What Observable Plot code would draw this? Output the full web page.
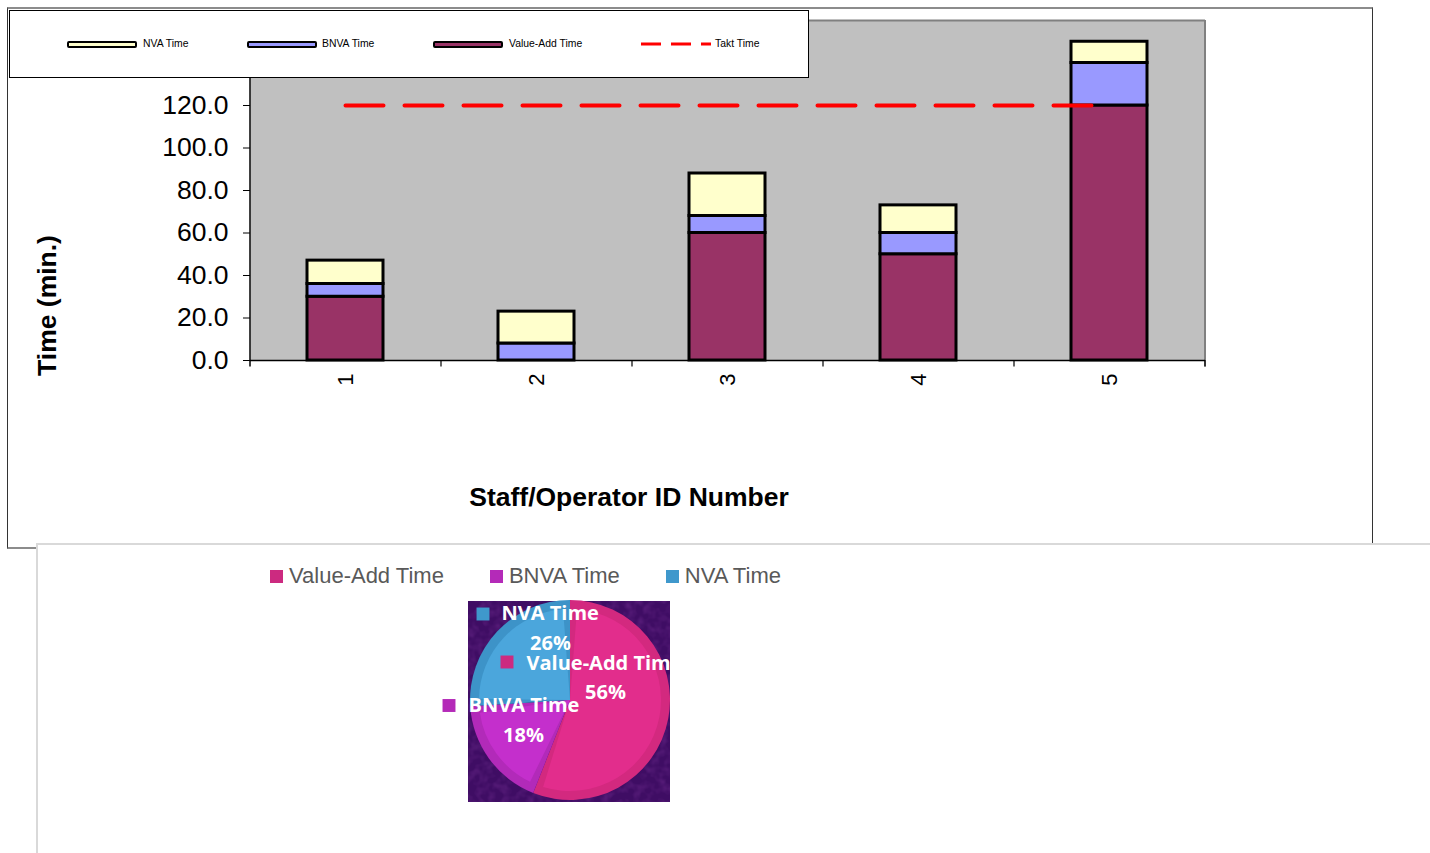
<!DOCTYPE html>
<html>
<head>
<meta charset="utf-8">
<script src="https://cdn.jsdelivr.net/npm/d3@7"></script>
<script src="https://cdn.jsdelivr.net/npm/@observablehq/plot@0.6"></script>
<style>
  body { margin: 0; background: #fff; }
  #page { position: relative; width: 1430px; height: 853px; overflow: hidden; font-family: "Liberation Sans", Arial, sans-serif; }
  #frame { position: absolute; left: 7px; top: 7px; width: 1366px; height: 542px; box-sizing: border-box;
           border-top: 2px solid #8c8c8c; border-bottom: 2px solid #8c8c8c; border-left: 1px solid #333; border-right: 1px solid #333; background: #fff; }
  #bars { position: absolute; left: 0; top: 0; }
  #legend { position: absolute; left: 9px; top: 10px; width: 800px; height: 68px; box-sizing: border-box; border: 1px solid #000; background: #fff; }
  #legend .sw { position: absolute; top: 30px; width: 70px; height: 7px; box-sizing: border-box; border: 2px solid #000; border-radius: 2px; }
  #legend .tx { position: absolute; top: 26px; font-size: 10.4px; line-height: 14px; color: #000; white-space: nowrap; }
  #panel { position: absolute; left: 36px; top: 543px; width: 1430px; height: 360px; box-sizing: border-box; border: 2px solid #d9d9d9; background: #fff; }
  #pieLegend { position: absolute; left: 270px; top: 563px; display: flex; gap: 46px; font-family: "Liberation Sans", Arial, sans-serif; font-size: 22px; color: #595959; }
  #pieLegend .it { display: flex; align-items: center; white-space: nowrap; }
  #pieLegend .sq { width: 13px; height: 13px; margin-right: 6px; }
  #pieBg { position: absolute; left: 468px; top: 601px; width: 202px; height: 201px; background: #3f0d64; }
  #pieWrap { position: absolute; left: 430px; top: 595px; width: 240px; height: 212px; overflow: hidden; }
</style>
</head>
<body>
<div id="page">
  <div id="frame"></div>
  <div id="bars"></div>
  <div id="legend"></div>
  <div id="panel"></div>
  <div id="pieLegend"></div>
  <div id="pieBg"></div>
  <div id="pieWrap"></div>
</div>
<script>
// Time per staff member / operator (minutes)
const operators    = ["1", "2", "3", "4", "5"];
const valueAddTime = [30, 0, 60, 50, 120];
const bnvaTime     = [6, 8, 8, 10, 20];
const nvaTime      = [11, 15, 20, 13, 10];
const taktTime     = 120;
const yTicks       = [0, 20, 40, 60, 80, 100, 120, 140, 160];

// Overall time split
const pieLabels = ["Value-Add Time", "BNVA Time", "NVA Time"];
const pieShares = [56, 18, 26];

// ---- stacked bar chart ----
const seriesNames  = ["Value-Add Time", "BNVA Time", "NVA Time"];
const seriesFills  = ["#993366", "#9999ff", "#ffffcc"];
const seriesValues = [valueAddTime, bnvaTime, nvaTime];

const rows = [];
operators.forEach((op, i) => {
  seriesNames.forEach((name, s) => rows.push({operator: op, type: name, value: seriesValues[s][i]}));
});
const taktRows = operators.map(op => ({operator: op, takt: taktTime}));

const W = 1430, H = 540, mL = 250, mR = 225, mT = 20, mB = 180;
const step = (W - mL - mR) / operators.length;

const bars = Plot.plot({
  width: W, height: H,
  marginLeft: mL, marginRight: mR, marginTop: mT, marginBottom: mB,
  style: {fontFamily: '"Liberation Sans", Arial, sans-serif', background: "transparent", color: "#000", overflow: "visible"},
  x: {domain: operators, paddingInner: 0.6, paddingOuter: 0.3, label: null},
  y: {domain: [0, 160], label: null},
  color: {domain: seriesNames, range: seriesFills},
  marks: [
    Plot.frame({fill: "#c0c0c0", stroke: null}),
    Plot.ruleY([160], {stroke: "#808080", strokeWidth: 2}),
    Plot.ruleX([operators[operators.length - 1]], {dx: step / 2, y1: -3, y2: 160, stroke: "#808080", strokeWidth: 2}),
    Plot.ruleY([0], {stroke: "#000", strokeWidth: 1.5}),
    Plot.ruleX(operators, {dx: step / 2, y1: 0, y2: -3, stroke: "#000", strokeWidth: 1.2}),
    Plot.ruleX([operators[0]], {dx: -step / 2, y1: -3, y2: 160, stroke: "#000", strokeWidth: 1.5}),
    Plot.axisY({ticks: yTicks, tickSize: 7, tickPadding: 15, tickFormat: d3.format(".1f"), fontSize: 26.5, label: null}),
    Plot.axisX({tickSize: 0, tickPadding: 13, tickRotate: -90, fontSize: 22, label: null}),
    Plot.barY(rows, {x: "operator", y: "value", fill: "type", stroke: "#000", strokeWidth: 3, order: seriesNames}),
    Plot.lineY(taktRows, {x: "operator", y: "takt", stroke: "#ff0000", strokeWidth: 4, strokeDasharray: "38,21", strokeLinecap: "round"}),
    Plot.text(["Staff/Operator ID Number"], {frameAnchor: "bottom", dx: -99, dy: 145, fontSize: 26.5, fontWeight: "bold"}),
    Plot.text(["Time (min.)"], {frameAnchor: "left", textAnchor: "middle", rotate: -90, dx: -203, dy: 115, fontSize: 26.5, fontWeight: "bold"})
  ]
});
document.getElementById("bars").append(bars);

// legend of the bar chart
const legend = document.getElementById("legend");
const legendEntries = [
  {name: "NVA Time", fill: "#ffffcc", left: 57, text: 133},
  {name: "BNVA Time", fill: "#9999ff", left: 237, text: 312},
  {name: "Value-Add Time", fill: "#993366", left: 423, text: 499}
];
legendEntries.forEach(e => {
  const sw = document.createElement("div");
  sw.className = "sw"; sw.style.left = e.left + "px"; sw.style.background = e.fill;
  legend.append(sw);
  const tx = document.createElement("div");
  tx.className = "tx"; tx.style.left = e.text + "px"; tx.textContent = e.name;
  legend.append(tx);
});
{
  const ns = "http://www.w3.org/2000/svg";
  const s = document.createElementNS(ns, "svg");
  s.setAttribute("width", 72); s.setAttribute("height", 8);
  s.style.position = "absolute"; s.style.left = "630px"; s.style.top = "29px";
  const l = document.createElementNS(ns, "line");
  l.setAttribute("x1", 1); l.setAttribute("x2", 71); l.setAttribute("y1", 4); l.setAttribute("y2", 4);
  l.setAttribute("stroke", "#ff0000"); l.setAttribute("stroke-width", 3); l.setAttribute("stroke-dasharray", "20,10");
  s.append(l); legend.append(s);
  const tx = document.createElement("div");
  tx.className = "tx"; tx.style.left = "705px"; tx.textContent = "Takt Time";
  legend.append(tx);
}

// ---- pie chart ----
const pieFace   = ["#e22d8c", "#c42fcc", "#4ba6dc"];
const pieRim    = ["#d3297f", "#b22ab9", "#3d93c8"];
const pieMarker = ["#cc2a80", "#b42ab8", "#3f98cc"];
const pieRows = pieLabels.map((name, i) => ({name, share: pieShares[i], i}));

const pieLegend = document.getElementById("pieLegend");
pieRows.forEach(d => {
  const it = document.createElement("div"); it.className = "it";
  const sq = document.createElement("div"); sq.className = "sq"; sq.style.background = pieMarker[d.i];
  const t = document.createElement("span"); t.textContent = d.name;
  it.append(sq, t); pieLegend.append(it);
});

// soft texture of the plot background
{
  const bg = document.getElementById("pieBg");
  bg.style.backgroundImage = "url(\"data:image/svg+xml;utf8," + encodeURIComponent(
    "<svg xmlns='http://www.w3.org/2000/svg' width='202' height='201'><filter id='n'><feTurbulence type='fractalNoise' baseFrequency='0.12' numOctaves='2' seed='4'/><feColorMatrix type='matrix' values='0 0 0 0 0.38  0 0 0 0 0.08  0 0 0 0 0.52  0 0 0 1.4 -0.55'/></filter><rect width='202' height='201' filter='url(#n)' opacity='0.35'/></svg>"
  ) + "\")";
}

const arcs = d3.pie().sort(null).value(d => d.share)(pieRows);

// positions of the data labels relative to the pie centre (radius = 1)
const pieLabelLayout = {
  "Value-Add Time": {mx: -0.635, my: -0.385, tx: -0.44, ty: -0.37, px: 0.35, py: -0.08},
  "BNVA Time":      {mx: -1.215, my: 0.05,   tx: -1.02, ty: 0.05,  px: -0.47, py: 0.35},
  "NVA Time":       {mx: -0.875, my: -0.865, tx: -0.69, ty: -0.87, px: -0.20, py: -0.57}
};

function pieSlices(index, scales) {
  const cx = scales.x(0), cy = scales.y(0), r = scales.x(1) - scales.x(0);
  const g = d3.create("svg:g").attr("transform", `translate(${cx},${cy})`);
  const rim = d3.arc().innerRadius(0).outerRadius(r);
  const face = d3.arc().innerRadius(0).outerRadius(r - 9).padAngle(0.14).padRadius(r);
  g.selectAll(null).data(arcs).join("path").attr("d", rim).attr("fill", d => pieRim[d.index]);
  g.selectAll(null).data(arcs).join("path").attr("d", face).attr("fill", d => pieFace[d.index]);
  return g.node();
}

const pieFont = '"Open Sans", "Noto Sans", sans-serif';
const pie = Plot.plot({
  width: 240, height: 212,
  margin: 0,
  style: {background: "transparent", overflow: "hidden"},
  x: {domain: [-1.4, 1.0], range: [0, 240], axis: null},
  y: {domain: [-1.05, 1.07], range: [0, 212], axis: null},
  marks: [
    pieSlices,
    Plot.dot(pieRows, {x: d => pieLabelLayout[d.name].mx, y: d => pieLabelLayout[d.name].my, symbol: "square", r: 7.3, fill: d => pieMarker[d.i], stroke: null}),
    Plot.text(pieRows, {x: d => pieLabelLayout[d.name].tx, y: d => pieLabelLayout[d.name].ty, text: "name", textAnchor: "start", fill: "#fff", fontSize: 20, fontWeight: "bold", fontFamily: pieFont}),
    Plot.text(pieRows, {x: d => pieLabelLayout[d.name].px, y: d => pieLabelLayout[d.name].py, text: d => d.share + "%", fill: "#fff", fontSize: 20, fontWeight: "bold", fontFamily: pieFont})
  ]
});
document.getElementById("pieWrap").append(pie);
</script>
</body>
</html>
